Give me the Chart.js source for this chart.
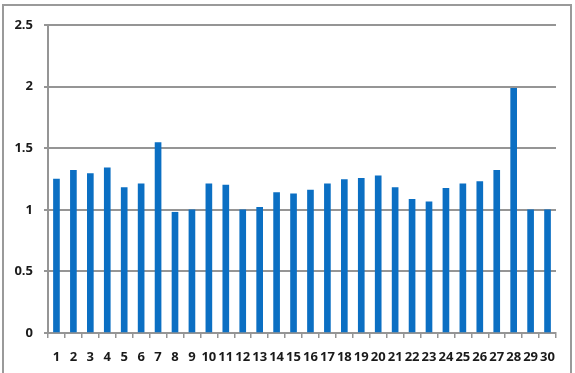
<!DOCTYPE html>
<html>
<head>
<meta charset="utf-8">
<script src="https://cdn.jsdelivr.net/npm/chart.js@4"></script>
<style>
  html, body { margin: 0; padding: 0; background: #fff; }
  #wrap { position: relative; width: 575px; height: 373px; }
  #frame {
    position: absolute; left: 2px; top: 4px; width: 566px; height: 372px;
    border: 2px solid #9a9a9a; border-bottom: none; box-sizing: content-box;
  }
  canvas { position: absolute; left: 0; top: 0; }
</style>
</head>
<body>
<div id="wrap">
  <div id="frame"></div>
  <canvas id="chart" width="575" height="373"></canvas>
</div>
<script>
// --- Data ---
const categories = ['1', '2', '3', '4', '5', '6', '7', '8', '9', '10',
  '11', '12', '13', '14', '15', '16', '17', '18', '19', '20',
  '21', '22', '23', '24', '25', '26', '27', '28', '29', '30'];

const values = [1.25, 1.32, 1.295, 1.34, 1.18, 1.21, 1.545, 0.98, 1.0, 1.21,
  1.2, 1.0, 1.02, 1.14, 1.13, 1.16, 1.21, 1.245, 1.255, 1.275,
  1.18, 1.085, 1.065, 1.175, 1.21, 1.23, 1.32, 1.985, 1.0, 1.0];

const yTicks = [0, 0.5, 1, 1.5, 2, 2.5];

const barColor = '#0b6fc3';
const gridColor = '#959595';
const labelFont = { family: 'Open Sans', size: 13, weight: 'bold' };

new Chart(document.getElementById('chart'), {
  type: 'bar',
  data: {
    labels: categories,
    datasets: [{
      data: values,
      backgroundColor: barColor,
      borderWidth: 0,
      barThickness: 6,
    }],
  },
  options: {
    responsive: false,
    animation: false,
    layout: { padding: { top: 25, right: 19, bottom: 0, left: 0 } },
    plugins: {
      legend: { display: false },
      tooltip: { enabled: false },
    },
    scales: {
      x: {
        grid: {
          drawOnChartArea: false,
          drawTicks: true,
          tickLength: 5,
          color: gridColor,
          lineWidth: 1.5,
        },
        border: { color: gridColor, width: 2 },
        ticks: {
          font: labelFont,
          color: '#1a1a1a',
          autoSkip: false,
          maxRotation: 0,
          minRotation: 0,
          padding: 11,
        },
        afterFit: (scale) => { scale.height = 40; },
      },
      y: {
        min: 0,
        max: 2.5,
        afterBuildTicks: (scale) => { scale.ticks = yTicks.map(v => ({ value: v })); },
        grid: {
          color: gridColor,
          lineWidth: 2,
          tickLength: 4,
        },
        border: { color: gridColor, width: 2 },
        ticks: {
          font: labelFont,
          color: '#1a1a1a',
          padding: 11,
          callback: (v) => String(v),
        },
        afterFit: (scale) => { scale.width = 48; },
      },
    },
  },
});
</script>
</body>
</html>
